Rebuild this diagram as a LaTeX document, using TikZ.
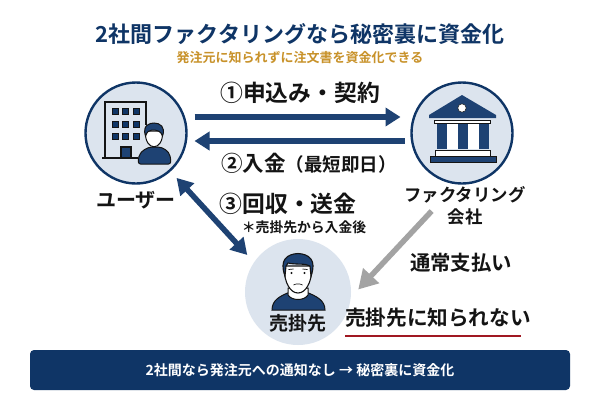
\documentclass[tikz,border=0pt]{standalone}
\usepackage{fontspec}
\setmainfont{Noto Sans CJK JP}[BoldFont={Noto Sans CJK JP Bold}]
\usetikzlibrary{arrows.meta}
\definecolor{navy}{HTML}{1E4273}
\definecolor{dnavy}{HTML}{0F3566}
\definecolor{pale}{HTML}{DCE4EE}
\definecolor{gold}{HTML}{C8922A}
\definecolor{dred}{HTML}{A01822}
\definecolor{ink}{HTML}{141414}
\definecolor{gry}{HTML}{A3A3A3}
\newcommand{\fs}[1]{\fontsize{#1pt}{#1pt}\selectfont}
\tikzset{
  party/.style={circle,minimum size=101pt,inner sep=0pt,outer sep=0pt,fill=pale,draw=dnavy,line width=2.4pt},
  other/.style={circle,minimum size=106pt,inner sep=0pt,outer sep=0pt,fill=pale},
  lbl/.style={inner sep=0pt,text=ink,font=\bfseries,align=center},
  bigarrow/.style={draw=navy,line width=5.5pt,-{Triangle[length=15pt,width=18pt]}},
  duoarrow/.style={draw=navy,line width=5.5pt,{Triangle[length=16pt,width=18pt]}-{Triangle[length=16pt,width=18pt]}},
  grayarrow/.style={draw=gry,line width=5.5pt,-{Triangle[length=19pt,width=21pt]}},
  iconline/.style={draw=ink,line width=1.1pt},
}
\begin{document}
\begin{tikzpicture}[x=1pt,y=-1pt]
\useasboundingbox (0,0) rectangle (600,400);
\fill[white] (0,0) rectangle (600,400);
% title
\node[inner sep=0pt,text=dnavy,font=\bfseries\fs{22}] (title) at (300,34) {2社間ファクタリングなら秘密裏に資金化};
\node[inner sep=0pt,text=gold,font=\bfseries\fs{13}] (sub) at (300,58) {発注元に知られずに注文書を資金化できる};
% circles
\node[party] (user) at (136,133) {};
\node[party] (bank) at (462,133) {};
\node[other] (cust) at (298,292) {};
% user icon
\draw[iconline] (105,158) -- (105,102) -- (146,102) -- (146,125);
\draw[iconline] (102,158) -- (138,158);
\foreach \x in {112,122.5,133}{\foreach \y in {108,121,133}{
  \fill[dnavy] (\x,\y) rectangle +(6,6);
  \draw[ink,line width=.5pt] (\x,\y) rectangle +(6,6);}}
\draw[iconline,fill=navy] (121,147) rectangle (131,157.5);
\draw[ink,line width=1pt,fill=navy,rounded corners=2pt] (138.5,164) .. controls (138,153) and (143,150) .. (150,147) -- (160,147) .. controls (167,150) and (171,153) .. (170.5,164) -- cycle;
\draw[ink,line width=1pt,fill=white] (145.5,131) .. controls (144,152) and (164,152) .. (162.5,131) -- cycle;
\draw[ink,line width=1pt,fill=navy] (145.5,136) .. controls (142,125) and (150,123) .. (154,123) .. controls (160,123) and (166,127) .. (162.5,136) .. controls (161,131) and (157,130) .. (152,130) .. controls (149,130) and (147,132) .. (145.5,136) -- cycle;
% bank icon
\fill[navy] (462,95) -- (496,115) -- (496,118) -- (429,118) -- (429,115) -- cycle;
\fill[white,draw=ink,line width=.5pt] (462,108) circle (4.2);
\draw[ink,line width=.6pt,fill=white] (434,120) rectangle (490,123.5);
\fill[navy] (437,124) rectangle (447,149);
\fill[navy] (458,124) rectangle (468,149);
\fill[navy] (479,124) rectangle (488.5,149);
\fill[white] (447,124) rectangle (458,149);
\fill[white] (468,124) rectangle (479,149);
\draw[ink,line width=.6pt,fill=white] (435,150.5) rectangle (490,156);
\fill[navy] (430,156) rectangle (496,162);
\draw[ink,line width=.6pt] (430,156) rectangle (496,162);
% customer icon
\draw[ink,line width=1pt,fill=navy] (272,310) .. controls (272,300) and (280,296) .. (290,292) -- (306,292) .. controls (316,296) and (325,300) .. (325,310) -- cycle;
\draw[ink,line width=1pt,fill=white] (288,288) -- (288,295) .. controls (292,301) and (304,301) .. (308,295) -- (308,288) -- cycle;
\draw[ink,line width=1.1pt,fill=white] (284,266) .. controls (284,284) and (291,293) .. (298,293) .. controls (305,293) and (312,284) .. (312,266) -- cycle;
\draw[ink,line width=1.1pt,fill=navy] (285,276) .. controls (279,260) and (287,254) .. (298,253.5) .. controls (309,254) and (317,260) .. (311,276) -- (310,266) .. controls (305,263) and (297,265) .. (288,263) -- (286,266) -- cycle;
\fill[ink] (291.5,273) circle (1.1) (304.5,273) circle (1.1);
\draw[ink,line width=.7pt] (288.5,269.5) -- (293.5,269) (302.5,269) -- (307.5,269.5);
\draw[ink,line width=.7pt] (293.5,285) .. controls (296,283.5) and (300,283.5) .. (302.5,285);
% connectors
\draw[bigarrow,shorten <=8pt,shorten >=11pt] ([yshift=16pt]user.east) -- ([yshift=16pt]bank.west);
\draw[bigarrow,shorten <=7pt,shorten >=8pt] ([yshift=-8pt]bank.west) -- ([yshift=-8pt]user.east);
\draw[duoarrow,shorten <=10pt,shorten >=10pt] (user.-48) -- (cust.146);
\draw[grayarrow,shorten <=38pt,shorten >=11pt] (bank.-95) -- (cust.-6);
% labels
\node[lbl,font=\bfseries\fs{22.8}] (t1) at (300,93) {①申込み・契約};
\node[lbl,anchor=west] (t2) at (221,163) {\fs{21.5}②入金\fs{18.5}（最短即日）};
\node[lbl,font=\bfseries\fs{22.8}] (t3) at (288,204) {③回収・送金};
\node[lbl,font=\bfseries\fs{13.8}] (t3b) at (304,227) {＊売掛先から入金後};
\node[lbl,font=\bfseries\fs{20}] (ulabel) at (136,200) {ユーザー};
\node[lbl,font=\bfseries\fs{17.4}] (blabel) at (465,195) {ファクタリング};
\node[lbl,font=\bfseries\fs{17.4}] (blabel2) at (465,217) {会社};
\node[lbl,font=\bfseries\fs{19}] (clabel) at (298,323) {売掛先};
\node[lbl,font=\bfseries\fs{20.4}] (normal) at (461,263) {通常支払い};
\node[lbl,font=\bfseries\fs{20.6}] (secret) at (438,318) {売掛先に知られない};
\draw[dred,line width=2pt] (345,336) -- (521,336);
% bar
\node[rounded corners=4pt,fill=dnavy,minimum width=540pt,minimum height=40pt,inner sep=0pt,text=white,font=\bfseries\fs{14}] (bar) at (300,370) {2社間なら発注元への通知なし → 秘密裏に資金化};
\end{tikzpicture}
\end{document}
